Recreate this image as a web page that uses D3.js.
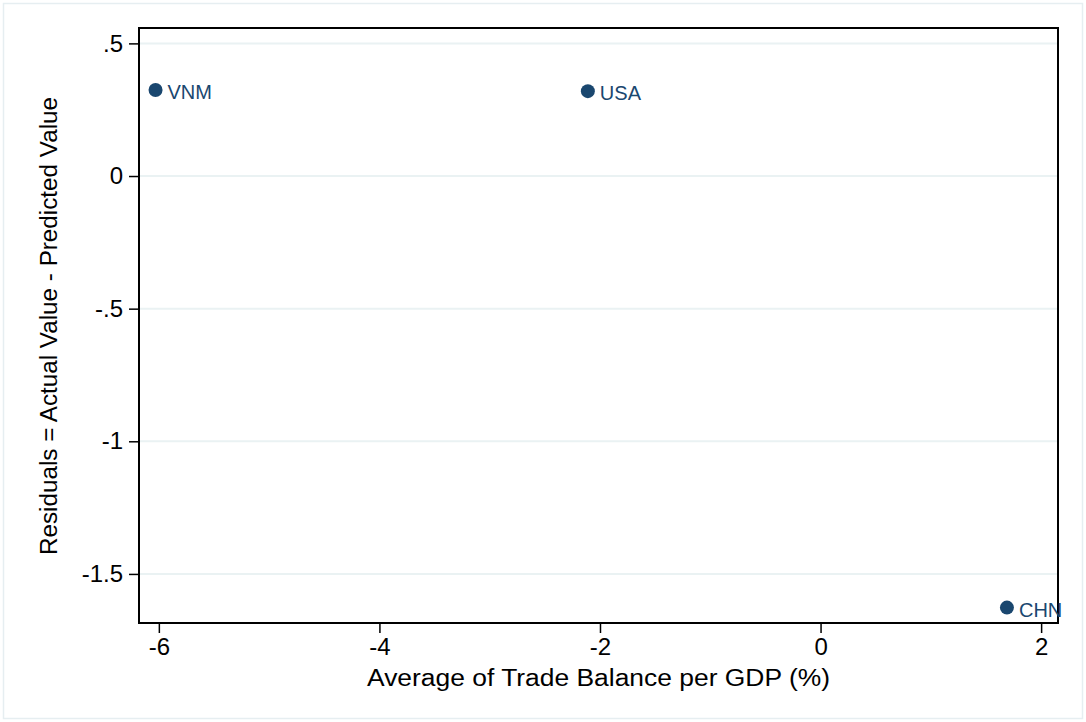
<!DOCTYPE html>
<html>
<head>
<meta charset="utf-8">
<script src="https://cdn.jsdelivr.net/npm/d3@7"></script>
<style>
  body { margin: 0; background: #fff; }
  svg { display: block; font-family: "Liberation Sans", Arial, sans-serif; }
</style>
</head>
<body>
<svg id="chart"></svg>
<script>
// country residuals vs trade balance
const countries = ["VNM", "USA", "CHN"];
const tradeBalance = [-6.03, -2.11, 1.69];
const residuals = [0.324, 0.320, -1.627];
const xTicks = [-6, -4, -2, 0, 2];
const yTicks = [0.5, 0, -0.5, -1, -1.5];
const yTickLabels = [".5", "0", "-.5", "-1", "-1.5"];

const width = 1086, height = 722;
const margin = { top: 28, right: 28, bottom: 99, left: 139 };
const navy = "#1a476f";

const svg = d3.select("#chart").attr("width", width).attr("height", height);

// faint outer frame
svg.append("rect")
  .attr("x", 3.5).attr("y", 3.5)
  .attr("width", width - 7).attr("height", height - 7)
  .attr("fill", "none").attr("stroke", "#e6eef1").attr("stroke-width", 1.5);

const x = d3.scaleLinear().domain([-6.18, 2.153]).range([margin.left, width - margin.right]);
const y = d3.scaleLinear().domain([-1.685, 0.558]).range([height - margin.bottom, margin.top]);

// gridlines
svg.append("g").selectAll("line")
  .data(yTicks)
  .enter().append("line")
  .attr("x1", margin.left).attr("x2", width - margin.right)
  .attr("y1", d => y(d)).attr("y2", d => y(d))
  .attr("stroke", "#eaf2f3").attr("stroke-width", 2);

// axes
const yAxis = svg.append("g")
  .attr("transform", `translate(${margin.left},0)`)
  .call(d3.axisLeft(y).tickValues(yTicks).tickFormat((d, i) => yTickLabels[i]).tickSize(10).tickPadding(6));

const xAxis = svg.append("g")
  .attr("transform", `translate(0,${height - margin.bottom})`)
  .call(d3.axisBottom(x).tickValues(xTicks).tickFormat(d3.format("d")).tickSize(10).tickPadding(5));

[xAxis, yAxis].forEach(g => {
  g.select(".domain").remove();
  g.selectAll(".tick line").attr("stroke", "#000").attr("stroke-width", 1.5);
  g.selectAll(".tick text").attr("fill", "#000").style("font-size", "24px");
});
xAxis.selectAll(".tick text").text(d => d < 0 ? "-" + Math.abs(d) : d);

// plot box
svg.append("rect")
  .attr("x", margin.left).attr("y", margin.top)
  .attr("width", width - margin.left - margin.right)
  .attr("height", height - margin.top - margin.bottom)
  .attr("fill", "none").attr("stroke", "#000").attr("stroke-width", 2);

// points
const pts = countries.map((c, i) => ({ name: c, x: tradeBalance[i], y: residuals[i] }));

svg.append("g").selectAll("circle")
  .data(pts)
  .enter().append("circle")
  .attr("cx", d => x(d.x)).attr("cy", d => y(d.y))
  .attr("r", 7)
  .attr("fill", navy);

svg.append("g").selectAll("text")
  .data(pts)
  .enter().append("text")
  .attr("x", d => x(d.x) + 12).attr("y", d => y(d.y) + 9)
  .attr("fill", navy)
  .style("font-size", "20px")
  .text(d => d.name);

// axis titles
svg.append("text")
  .attr("x", 367)
  .attr("y", 686)
  .attr("textLength", 463)
  .attr("lengthAdjust", "spacingAndGlyphs")
  .style("font-size", "23px")
  .text("Average of Trade Balance per GDP (%)");

svg.append("text")
  .attr("transform", "translate(57,555) rotate(-90)")
  .attr("textLength", 458)
  .attr("lengthAdjust", "spacingAndGlyphs")
  .style("font-size", "23px")
  .text("Residuals = Actual Value - Predicted Value");
</script>
</body>
</html>
